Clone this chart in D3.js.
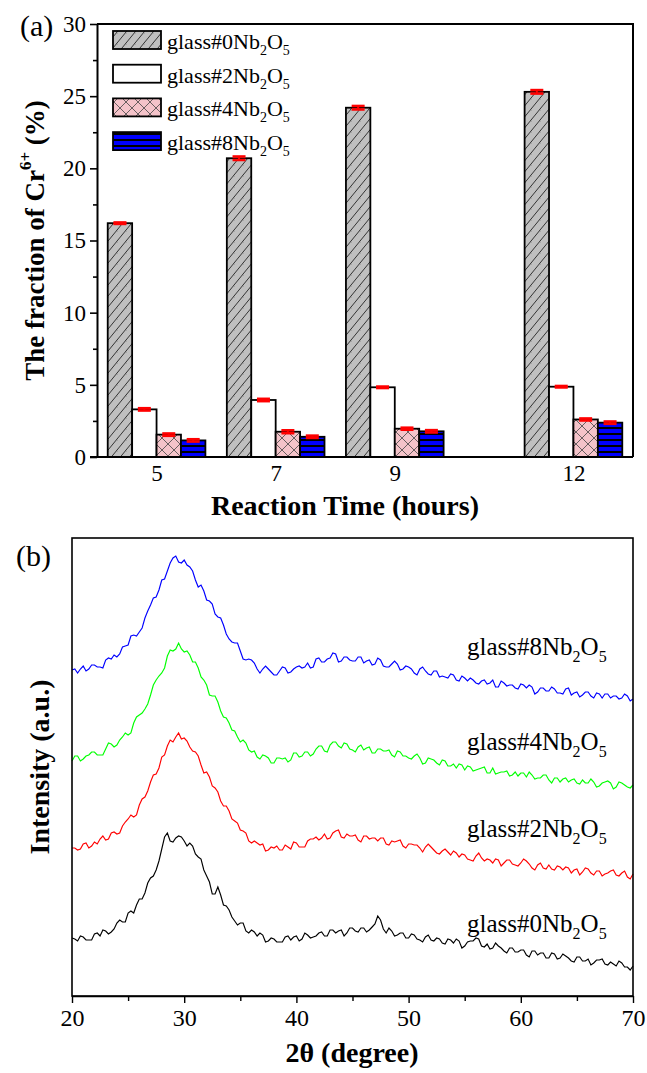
<!DOCTYPE html>
<html><head><meta charset="utf-8">
<script src="https://cdn.jsdelivr.net/npm/d3@7"></script>
<style>
html,body{margin:0;padding:0;background:#fff;}
svg{display:block;font-family:"Liberation Serif","Times New Roman",serif;}
</style></head>
<body>
<svg id="c" width="647" height="1073"></svg>
<script>
// ---------- (a) bar chart data ----------
const hours = [5, 7, 9, 12];
const seriesNames = ["0", "2", "4", "8"];
const frac0 = [16.2, 20.7, 24.2, 25.3];
const frac2 = [3.3, 3.95, 4.83, 4.87];
const frac4 = [1.55, 1.75, 1.96, 2.6];
const frac8 = [1.15, 1.4, 1.78, 2.38];
const err0 = [0.05, 0.12, 0.12, 0.12];
const err2 = [0.08, 0.08, 0.05, 0.05];
const err4 = [0.08, 0.1, 0.07, 0.07];
const err8 = [0.08, 0.08, 0.08, 0.08];
const yTicksA = [0, 5, 10, 15, 20, 25, 30];

// ---------- (b) XRD data (2theta from 20 to 70, step 0.25) ----------
const thetaStart = 20, thetaStep = 0.25;
const xrd8 = [
326,327,323,327,330,325,327,331,331,329,329,328,336,338,337,341,339,342,349,350,
351,360,361,360,364,368,378,385,391,398,399,406,416,417,425,433,438,440,434,433,
436,431,429,425,416,409,411,405,396,395,392,382,379,378,371,362,357,354,353,353,
345,337,336,337,336,333,327,323,327,330,327,324,321,321,325,329,328,323,324,327,
329,330,328,329,333,328,329,337,338,334,334,337,338,343,342,334,335,339,339,336,
335,335,339,339,333,335,336,331,332,338,336,330,329,329,332,335,332,326,327,330,
329,327,323,321,327,329,325,322,321,325,325,319,320,319,318,322,321,316,315,320,
318,315,318,316,313,312,315,316,312,313,316,309,309,315,313,310,311,311,308,307,
312,311,308,311,309,302,304,308,308,305,305,309,307,303,303,302,307,308,301,303,
304,299,301,304,304,300,298,303,302,298,302,302,298,300,300,297,298,302,300,295,297];
const xrd4 = [
235,240,240,235,237,240,241,244,244,241,241,241,247,253,252,249,251,256,259,263,
261,263,273,279,281,283,287,292,301,311,316,320,323,328,340,346,345,347,353,347,
344,345,341,334,334,328,319,316,311,301,300,300,294,285,279,278,273,266,265,259,
254,256,253,246,244,245,239,237,241,240,238,233,233,238,238,237,238,234,236,243,
243,239,240,244,244,240,242,247,250,250,245,244,251,254,254,250,248,253,252,247,
246,244,249,251,246,248,249,243,243,247,247,245,245,246,241,239,245,244,240,240,
238,237,240,242,238,232,233,238,237,236,233,231,236,235,230,230,232,228,232,231,
226,230,229,225,226,227,228,229,223,223,228,222,223,224,224,225,220,221,224,220,
223,223,219,224,221,217,218,218,221,221,216,213,218,218,214,217,218,214,216,217,
213,212,216,213,213,217,214,209,210,213,214,215,213,207,209,214,213,211,209,208,211];
const xrd2 = [
148,148,146,147,152,153,148,150,154,152,157,160,156,157,163,164,162,163,170,174,
177,181,179,181,191,197,199,205,214,221,222,228,239,241,250,256,254,259,263,257,
258,255,249,245,244,240,231,223,224,219,210,208,204,195,190,190,185,177,175,173,
166,165,163,155,153,155,153,151,152,145,146,149,148,150,146,146,151,149,147,154,
153,149,149,149,155,157,157,159,156,158,162,157,158,163,165,166,159,158,162,160,
160,161,156,154,160,160,157,158,158,155,158,158,152,151,155,154,155,156,150,148,
152,152,151,151,148,144,149,152,149,146,143,142,145,147,144,141,145,143,139,142,
141,137,136,135,140,143,138,135,137,136,133,137,136,130,133,136,136,132,131,130,
133,137,135,132,128,126,131,133,128,127,131,127,126,130,129,126,129,128,123,126,
127,121,124,128,127,123,121,125,125,120,122,123,125,126,121,120,123,125,119,117,122];
const xrd0 = [
58,57,55,60,59,56,56,56,62,63,60,66,65,62,64,67,73,76,74,74,
83,85,83,91,97,97,103,113,118,120,126,135,147,159,163,155,154,158,160,159,
155,150,153,150,142,139,137,126,120,114,102,102,109,101,91,90,86,79,75,71,
73,73,65,63,66,64,60,63,61,54,55,58,57,54,54,54,59,60,56,59,
60,55,57,63,61,58,59,60,63,64,60,60,66,66,63,65,66,60,63,68,
68,65,64,68,68,64,66,69,72,80,76,67,63,68,65,60,61,63,63,58,
58,62,61,57,56,54,59,61,56,55,58,57,53,52,57,56,53,57,55,48,
50,54,55,55,58,57,50,49,52,47,48,53,50,48,45,43,48,48,44,44,
46,46,41,39,45,45,41,43,43,38,38,43,42,37,38,42,40,38,35,34,
39,39,35,35,37,31,33,36,36,37,32,31,34,32,30,35,33,29,29,26,30];
const xrdSeries = [
  {name: "8", values: xrd8, color: "#0000ff"},
  {name: "4", values: xrd4, color: "#00ff00"},
  {name: "2", values: xrd2, color: "#ff0000"},
  {name: "0", values: xrd0, color: "#000000"}
];
const xTicksB = [20, 30, 40, 50, 60, 70];

const svg = d3.select("#c");
const defs = svg.append("defs");

// patterns
const pDiag = defs.append("pattern").attr("id","pDiag").attr("patternUnits","userSpaceOnUse")
  .attr("width",9).attr("height",11);
pDiag.append("rect").attr("width",9).attr("height",11).attr("fill","#c0c0c0");
pDiag.append("path").attr("d","M-2,12.5 L9.5,-1.5 M7,12.5 L11,7.6 M-2,2.5 L0.5,-0.5").attr("stroke","#222").attr("stroke-width",0.9);

const pCross = defs.append("pattern").attr("id","pCross").attr("patternUnits","userSpaceOnUse")
  .attr("width",12).attr("height",12);
pCross.append("rect").attr("width",12).attr("height",12).attr("fill","#f4c3c9");
pCross.append("path").attr("d","M0,0 L12,12 M12,0 L0,12").attr("stroke","#444").attr("stroke-width",0.8);

const pStripe = defs.append("pattern").attr("id","pStripe").attr("patternUnits","userSpaceOnUse")
  .attr("width",10).attr("height",6).attr("y",457);
pStripe.append("rect").attr("width",10).attr("height",6).attr("fill","#0000ff");
pStripe.append("rect").attr("y",0).attr("width",10).attr("height",2).attr("fill","#000");

const fills = ["url(#pDiag)", "#ffffff", "url(#pCross)", "url(#pStripe)"];
const fracs = [frac0, frac2, frac4, frac8];
const errs = [err0, err2, err4, err8];

// ---------- panel (a) ----------
const xA = d3.scaleLinear().domain([4, 13]).range([97, 633]);
const yA = d3.scaleLinear().domain([0, 30]).range([457, 24]);
const barW = xA(4.41) - xA(4);

const gA = svg.append("g");
hours.forEach((h, i) => {
  fracs.forEach((arr, j) => {
    const x0 = xA(h) + (j - 2) * barW;
    gA.append("rect").attr("x", x0).attr("y", yA(arr[i]))
      .attr("width", barW).attr("height", yA(0) - yA(arr[i]))
      .attr("fill", fills[j]).attr("stroke", "#000").attr("stroke-width", 1.8);
  });
});
// error bars
hours.forEach((h, i) => {
  fracs.forEach((arr, j) => {
    const cx = xA(h) + (j - 1.5) * barW;
    const v = arr[i], e = errs[j][i];
    const cw = 6.5;
    gA.append("line").attr("x1", cx).attr("x2", cx).attr("y1", yA(v + e)).attr("y2", yA(v - e))
      .attr("stroke", "#ff0000").attr("stroke-width", 2);
    [v + e, v - e].forEach(t => {
      gA.append("line").attr("x1", cx - cw).attr("x2", cx + cw).attr("y1", yA(t)).attr("y2", yA(t))
        .attr("stroke", "#ff0000").attr("stroke-width", 2.6);
    });
  });
});

// frame
gA.append("path").attr("d", `M${xA(4)},${yA(30)} H${xA(13)} V${yA(0)}`)
  .attr("fill","none").attr("stroke","#000").attr("stroke-width",2);

// y axis
const axA = d3.axisLeft(yA).tickValues(yTicksA).tickSize(7).tickPadding(4).tickSizeOuter(0);
const gyA = svg.append("g").attr("transform", `translate(${xA(4)},0)`).call(axA);
gyA.select(".domain").attr("stroke-width", 2);
gyA.selectAll(".tick line").attr("stroke-width", 1.6);
gyA.selectAll("text").attr("font-size", 23).attr("fill", "#000")
  .attr("font-family", "Liberation Serif, Times New Roman, serif");
const minorA = d3.axisLeft(yA).tickValues([2.5, 7.5, 12.5, 17.5, 22.5, 27.5]).tickSize(4).tickFormat("").tickSizeOuter(0);
const gmA = svg.append("g").attr("transform", `translate(${xA(4)},0)`).call(minorA);
gmA.select(".domain").remove();
gmA.selectAll(".tick line").attr("stroke-width", 1.6);

// x axis
const axXA = d3.axisBottom(xA).tickValues(hours).tickSize(0).tickPadding(8).tickSizeOuter(0);
const gxA = svg.append("g").attr("transform", `translate(0,${yA(0)})`).call(axXA);
gxA.select(".domain").attr("stroke-width", 2.2).attr("d", `M${xA(4) - 7},0H${xA(13)}`);
gxA.selectAll("text").attr("font-size", 23).attr("fill", "#000")
  .attr("font-family", "Liberation Serif, Times New Roman, serif");

// legend
const legA = svg.append("g");
seriesNames.forEach((s, j) => {
  const ty = 31 + j * 33.7;
  legA.append("rect").attr("x", 113).attr("y", ty).attr("width", 48).attr("height", 18)
    .attr("fill", fills[j]).attr("stroke", "#000").attr("stroke-width", 1.8);
  const t = legA.append("text").attr("x", 167).attr("y", ty + 18).attr("font-size", 22);
  t.append("tspan").text("glass#" + s + "Nb");
  t.append("tspan").attr("font-size", 14).attr("dy", 6).text("2");
  t.append("tspan").attr("dy", -6).text("O");
  t.append("tspan").attr("font-size", 14).attr("dy", 6).text("5");
});

// titles (a)
svg.append("text").attr("x", 20).attr("y", 36).attr("font-size", 30).text("(a)");
const yt = svg.append("text").attr("transform", `translate(44,${(yA(0) + yA(30)) / 2}) rotate(-90)`)
  .attr("text-anchor", "middle").attr("font-size", 27).attr("font-weight", "bold");
yt.append("tspan").text("The fraction of Cr");
yt.append("tspan").attr("font-size", 17).attr("dy", -13).text("6+");
yt.append("tspan").attr("dy", 13).text(" (%)");
svg.append("text").attr("x", 345).attr("y", 515).attr("text-anchor", "middle")
  .attr("font-size", 28).attr("font-weight", "bold").text("Reaction Time (hours)");

// ---------- panel (b) ----------
const xB = d3.scaleLinear().domain([20, 70]).range([72, 633]);
const yB = d3.scaleLinear().domain([0, 458]).range([996, 538]);
const gB = svg.append("g");
const line = d3.line().x((d, i) => xB(thetaStart + i * thetaStep)).y(d => yB(d));
xrdSeries.forEach(s => {
  gB.append("path").datum(s.values).attr("d", line).attr("fill", "none")
    .attr("stroke", s.color).attr("stroke-width", 1.15).attr("stroke-linejoin", "miter");
});
gB.append("rect").attr("x", xB(20)).attr("y", yB(458)).attr("width", xB(70) - xB(20))
  .attr("height", yB(0) - yB(458)).attr("fill", "none").attr("stroke", "#000").attr("stroke-width", 1.6);

const axB = d3.axisBottom(xB).tickValues(xTicksB).tickSize(7).tickPadding(6).tickSizeOuter(0).tickFormat(d3.format("d"));
const gxB = svg.append("g").attr("transform", `translate(0,${yB(0)})`).call(axB);
gxB.select(".domain").attr("stroke-width", 1.6);
gxB.selectAll(".tick line").attr("stroke-width", 1.4);
gxB.selectAll("text").attr("font-size", 24).attr("fill", "#000")
  .attr("font-family", "Liberation Serif, Times New Roman, serif");
const minorB = d3.axisBottom(xB).tickValues([25, 35, 45, 55, 65]).tickSize(5).tickFormat("").tickSizeOuter(0);
const gmB = svg.append("g").attr("transform", `translate(0,${yB(0)})`).call(minorB);
gmB.select(".domain").remove();
gmB.selectAll(".tick line").attr("stroke-width", 1.4);

// curve labels
const labelY = [655, 750, 837, 932];
xrdSeries.forEach((s, k) => {
  const t = svg.append("text").attr("x", 467).attr("y", labelY[k]).attr("font-size", 25);
  t.append("tspan").text("glass#" + s.name + "Nb");
  t.append("tspan").attr("font-size", 16).attr("dy", 7).text("2");
  t.append("tspan").attr("dy", -7).text("O");
  t.append("tspan").attr("font-size", 16).attr("dy", 7).text("5");
});

svg.append("text").attr("x", 16).attr("y", 566).attr("font-size", 30).text("(b)");
svg.append("text").attr("transform", `translate(49,${(yB(0) + yB(458)) / 2}) rotate(-90)`)
  .attr("text-anchor", "middle").attr("font-size", 28).attr("font-weight", "bold").text("Intensity (a.u.)");
svg.append("text").attr("x", 352).attr("y", 1062).attr("text-anchor", "middle")
  .attr("font-size", 28).attr("font-weight", "bold").text("2θ (degree)");
</script>
</body></html>
